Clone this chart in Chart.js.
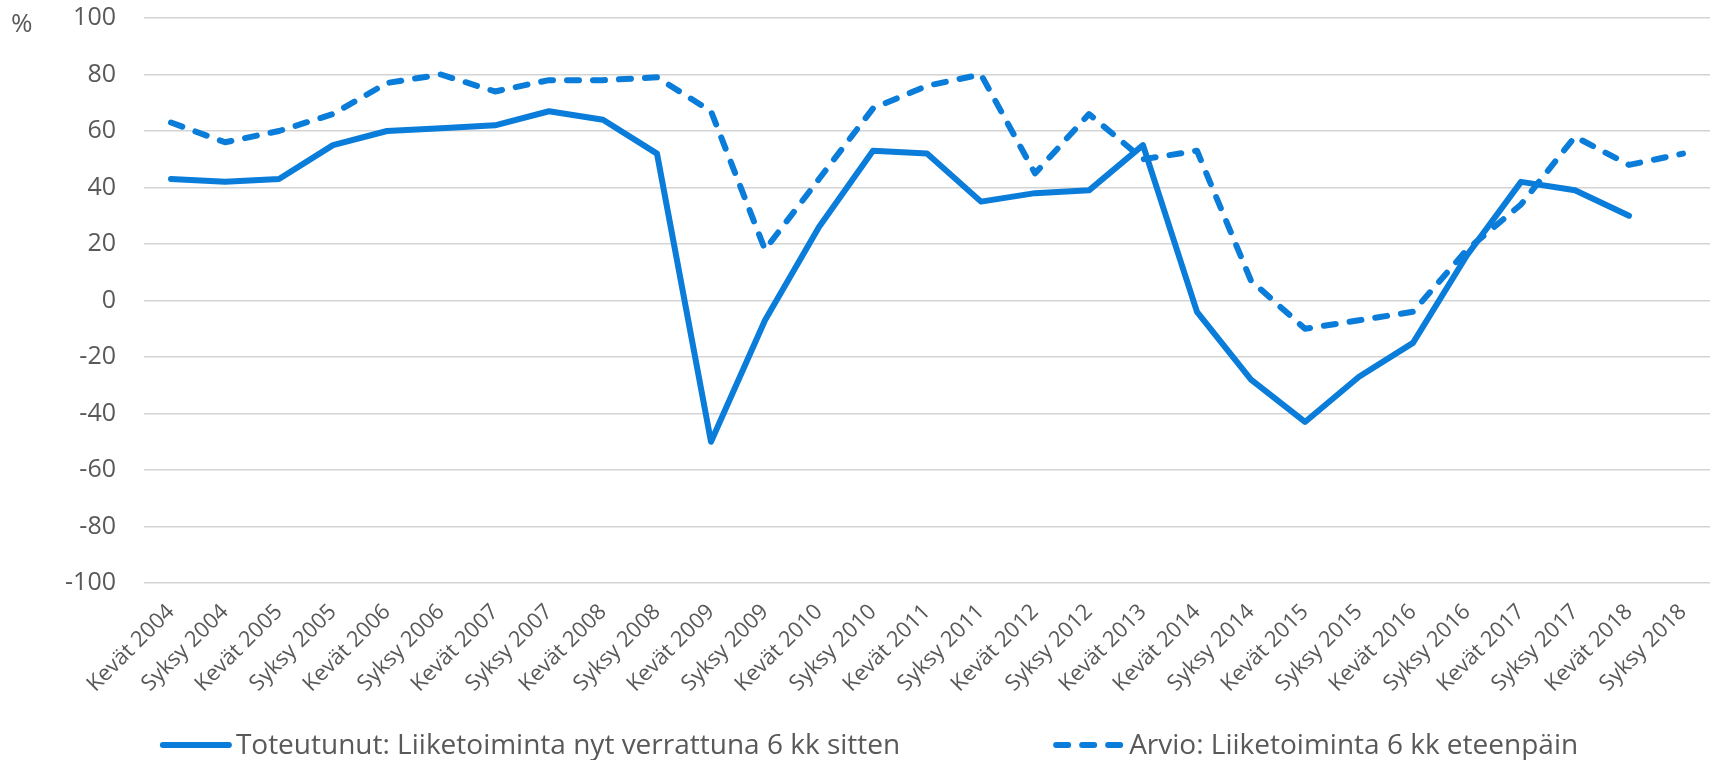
<!DOCTYPE html>
<html>
<head>
<meta charset="utf-8">
<script src="https://cdn.jsdelivr.net/npm/chart.js@4.4.1/dist/chart.umd.min.js"></script>
<style>
    html, body { margin: 0; padding: 0; background: #fff; }
    #wrap { width: 1710px; height: 760px; }
</style>
</head>
<body>
<div id="wrap"><canvas id="chart" width="1710" height="760"></canvas></div>
<script>
// ---------------------------------------------------------
// DATA
// ---------------------------------------------------------
const labels = [
    'Kevät 2004', 'Syksy 2004', 'Kevät 2005', 'Syksy 2005', 'Kevät 2006', 'Syksy 2006',
    'Kevät 2007', 'Syksy 2007', 'Kevät 2008', 'Syksy 2008', 'Kevät 2009', 'Syksy 2009',
    'Kevät 2010', 'Syksy 2010', 'Kevät 2011', 'Syksy 2011', 'Kevät 2012', 'Syksy 2012',
    'Kevät 2013', 'Kevät 2014', 'Syksy 2014', 'Kevät 2015', 'Syksy 2015', 'Kevät 2016',
    'Syksy 2016', 'Kevät 2017', 'Syksy 2017', 'Kevät 2018', 'Syksy 2018'
];
const toteutunut = [43, 42, 43, 55, 60, 61, 62, 67, 64, 52, -50, -7, 26, 53, 52, 35, 38, 39, 55,
    -4, -28, -43, -27, -15, 16, 42, 39, 30, null];
const arvio = [63, 56, 60, 66, 77, 80, 74, 78, 78, 79, 67, 18, 43, 68, 76, 80, 45, 66, 50,
    53, 7, -10, -7, -4, 18, 34, 58, 48, 52];
const yTicks = [-100, -80, -60, -40, -20, 0, 20, 40, 60, 80, 100];

const seriesNames = [
    'Toteutunut: Liiketoiminta nyt verrattuna 6 kk sitten',
    'Arvio: Liiketoiminta 6 kk eteenpäin'
];

const BLUE = '#0a7cd9';
const TEXT = '#595959';
const FONT = "'Open Sans', sans-serif";

// unit label and bottom legend drawn straight on the canvas
const extrasPlugin = {
    id: 'extras',
    afterDraw(chart) {
        const ctx = chart.ctx;
        ctx.save();
        ctx.fillStyle = TEXT;
        ctx.font = '26px ' + FONT;
        ctx.textBaseline = 'alphabetic';
        ctx.textAlign = 'left';
        ctx.fillText('%', 11, 32);

        // legend
        ctx.font = '28px ' + FONT;
        const lineW = 72, textGap = 4, itemGap = 153, y = 745;
        const widths = seriesNames.map(n => lineW + textGap + ctx.measureText(n).width);
        const total = widths[0] + itemGap + widths[1];
        let x = (chart.width - total) / 2 + 14;
        ctx.textBaseline = 'middle';
        chart.data.datasets.forEach((ds, i) => {
            ctx.beginPath();
            ctx.strokeStyle = ds.borderColor;
            ctx.lineWidth = ds.borderWidth;
            ctx.lineCap = 'round';
            ctx.setLineDash(ds.borderDash || []);
            ctx.moveTo(x + 3, y);
            ctx.lineTo(x + lineW - 3, y);
            ctx.stroke();
            ctx.setLineDash([]);
            ctx.fillText(seriesNames[i], x + lineW + textGap, y + 1);
            x += widths[i] + itemGap;
        });
        ctx.restore();
    }
};

new Chart(document.getElementById('chart'), {
    type: 'line',
    data: {
        labels: labels,
        datasets: [
            {
                label: seriesNames[0],
                data: toteutunut,
                borderColor: BLUE,
                borderWidth: 6,
                borderCapStyle: 'round',
                borderJoinStyle: 'round',
                pointRadius: 0,
                tension: 0,
                fill: false
            },
            {
                label: seriesNames[1],
                data: arvio,
                borderColor: BLUE,
                borderWidth: 6,
                borderDash: [12, 14],
                borderCapStyle: 'round',
                borderJoinStyle: 'round',
                pointRadius: 0,
                tension: 0,
                fill: false
            }
        ]
    },
    options: {
        responsive: false,
        animation: false,
        layout: { padding: { top: 18, right: 0, left: 0, bottom: 50 } },
        plugins: {
            legend: { display: false },
            tooltip: { enabled: false }
        },
        scales: {
            x: {
                offset: true,
                grid: { display: false },
                border: { display: false },
                ticks: {
                    color: TEXT,
                    font: { family: FONT, size: 22 },
                    minRotation: 45,
                    maxRotation: 45,
                    autoSkip: false,
                    padding: 8
                },
                afterFit(scale) {
                    scale.height = 127;
                    scale.paddingLeft = 0;
                    scale.paddingRight = 0;
                }
            },
            y: {
                min: -100,
                max: 100,
                afterBuildTicks(scale) { scale.ticks = yTicks.map(v => ({ value: v })); },
                grid: { color: '#d4d4d4', lineWidth: 1.5, drawTicks: false },
                border: { display: false },
                ticks: {
                    color: TEXT,
                    font: { family: FONT, size: 25 },
                    padding: 28
                },
                afterFit(scale) {
                    scale.width = 144;
                    scale.paddingTop = 0;
                    scale.paddingBottom = 0;
                }
            }
        }
    },
    plugins: [extrasPlugin]
});
</script>
</body>
</html>
